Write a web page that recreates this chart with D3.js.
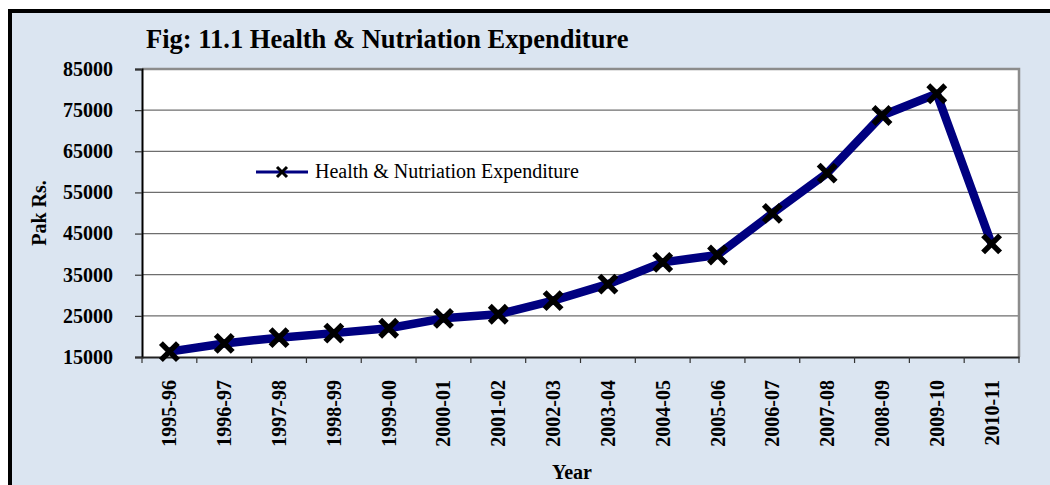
<!DOCTYPE html>
<html>
<head>
<meta charset="utf-8">
<script src="https://cdn.jsdelivr.net/npm/d3@7"></script>
<style>
  body { margin:0; background:#fff; }
  text { font-family:"Times New Roman","Liberation Serif",serif; }
</style>
</head>
<body>
<div id="chart"></div>
<script>
// Health & Nutriation Expenditure, Pak Rs.
var years=["1995-96","1996-97","1997-98","1998-99","1999-00","2000-01","2001-02","2002-03",
           "2003-04","2004-05","2005-06","2006-07","2007-08","2008-09","2009-10","2010-11"];
var expenditure=[16300,18300,19700,20800,22000,24400,25400,28700,
                 32700,38000,39800,49900,59700,73700,79000,42500];
var yTicks=[15000,25000,35000,45000,55000,65000,75000,85000];
var seriesName="Health & Nutriation Expenditure";
var titleText="Fig: 11.1 Health & Nutriation Expenditure";

var width=1050, height=485;
var pLeft=142, pRight=1019, pTop=69, pBottom=357;

var svg=d3.select("#chart").append("svg")
    .attr("width",width).attr("height",height);

// outer frame
svg.append("rect")
    .attr("x",10).attr("y",11)
    .attr("width",1100).attr("height",600)
    .attr("fill","#dbe5f1")
    .attr("stroke","black")
    .attr("stroke-width",4);

var x=d3.scaleBand().domain(years).range([pLeft,pRight]);
var y=d3.scaleLinear().domain([15000,85000]).range([pBottom,pTop]);

// plot area
svg.append("rect")
    .attr("x",pLeft).attr("y",pTop)
    .attr("width",pRight-pLeft).attr("height",pBottom-pTop)
    .attr("fill","white");

// gridlines
svg.append("g").selectAll("line")
    .data(yTicks.slice(1,-1))
    .join("line")
    .attr("x1",pLeft).attr("x2",pRight)
    .attr("y1",d=>y(d)).attr("y2",d=>y(d))
    .attr("stroke","#6e6e6e")
    .attr("stroke-width",1.2);

// plot border top/right
svg.append("path")
    .attr("d","M"+pLeft+","+pTop+" H"+pRight+" V"+pBottom)
    .attr("fill","none")
    .attr("stroke","#8c8c8c")
    .attr("stroke-width",2.5);

// y axis
var yAxis=svg.append("g")
    .attr("transform","translate("+pLeft+",0)")
    .call(d3.axisLeft(y).tickValues(yTicks).tickSize(7).tickPadding(22).tickFormat(d3.format("d")));
yAxis.select(".domain").attr("stroke","black").attr("stroke-width",2);
yAxis.selectAll(".tick line").attr("stroke","#333").attr("stroke-width",1.2);
yAxis.selectAll("text")
    .attr("font-size",20).attr("font-weight","bold")
    .attr("font-family","'Times New Roman','Liberation Serif',serif")
    .attr("fill","black");

// x axis
var xAxis=svg.append("g")
    .attr("transform","translate(0,"+pBottom+")")
    .call(d3.axisBottom(x).tickSize(0).tickSizeOuter(0));
xAxis.select(".domain").attr("stroke","#222").attr("stroke-width",2);
xAxis.selectAll(".tick text")
    .attr("transform","rotate(-90)")
    .attr("x",-23).attr("y",0).attr("dy","0.35em")
    .attr("text-anchor","end")
    .attr("font-size",20).attr("font-weight","bold")
    .attr("font-family","'Times New Roman','Liberation Serif',serif")
    .attr("fill","black");
// tick marks between categories
svg.append("g").selectAll("line")
    .data(years.concat(["end"]))
    .join("line")
    .attr("x1",(d,i)=>i<years.length?x(d):pRight)
    .attr("x2",(d,i)=>i<years.length?x(d):pRight)
    .attr("y1",pBottom).attr("y2",pBottom+6)
    .attr("stroke","#333").attr("stroke-width",1.2);

// series line
var line=d3.line()
    .x((d,i)=>x(years[i])+x.bandwidth()/2)
    .y(d=>y(d));
svg.append("path")
    .attr("d",line(expenditure))
    .attr("fill","none")
    .attr("stroke","#000080")
    .attr("stroke-width",8.5)
    .attr("stroke-linejoin","round");

function cross(g,cx,cy,r,w){
    g.append("path")
        .attr("d","M"+(cx-r)+","+(cy-r)+" L"+(cx+r)+","+(cy+r)+" M"+(cx-r)+","+(cy+r)+" L"+(cx+r)+","+(cy-r))
        .attr("stroke","black")
        .attr("stroke-width",w)
        .attr("fill","none");
}
var marks=svg.append("g");
expenditure.forEach((v,i)=>cross(marks,x(years[i])+x.bandwidth()/2,y(v),8.5,5.5));

// legend
var lg=svg.append("g");
lg.append("line")
    .attr("x1",256).attr("x2",308).attr("y1",172).attr("y2",172)
    .attr("stroke","#000080").attr("stroke-width",3);
cross(lg,282,172,5,3);
lg.append("text")
    .attr("x",315).attr("y",178)
    .attr("font-size",20)
    .text(seriesName);

// title
svg.append("text")
    .attr("x",146).attr("y",48)
    .attr("font-size",26.5).attr("font-weight","bold")
    .text(titleText);

// axis titles
svg.append("text")
    .attr("transform","translate(46,213) rotate(-90)")
    .attr("text-anchor","middle")
    .attr("font-size",20).attr("font-weight","bold")
    .text("Pak Rs.");
svg.append("text")
    .attr("x",572).attr("y",479)
    .attr("text-anchor","middle")
    .attr("font-size",20).attr("font-weight","bold")
    .text("Year");
</script>
</body>
</html>
